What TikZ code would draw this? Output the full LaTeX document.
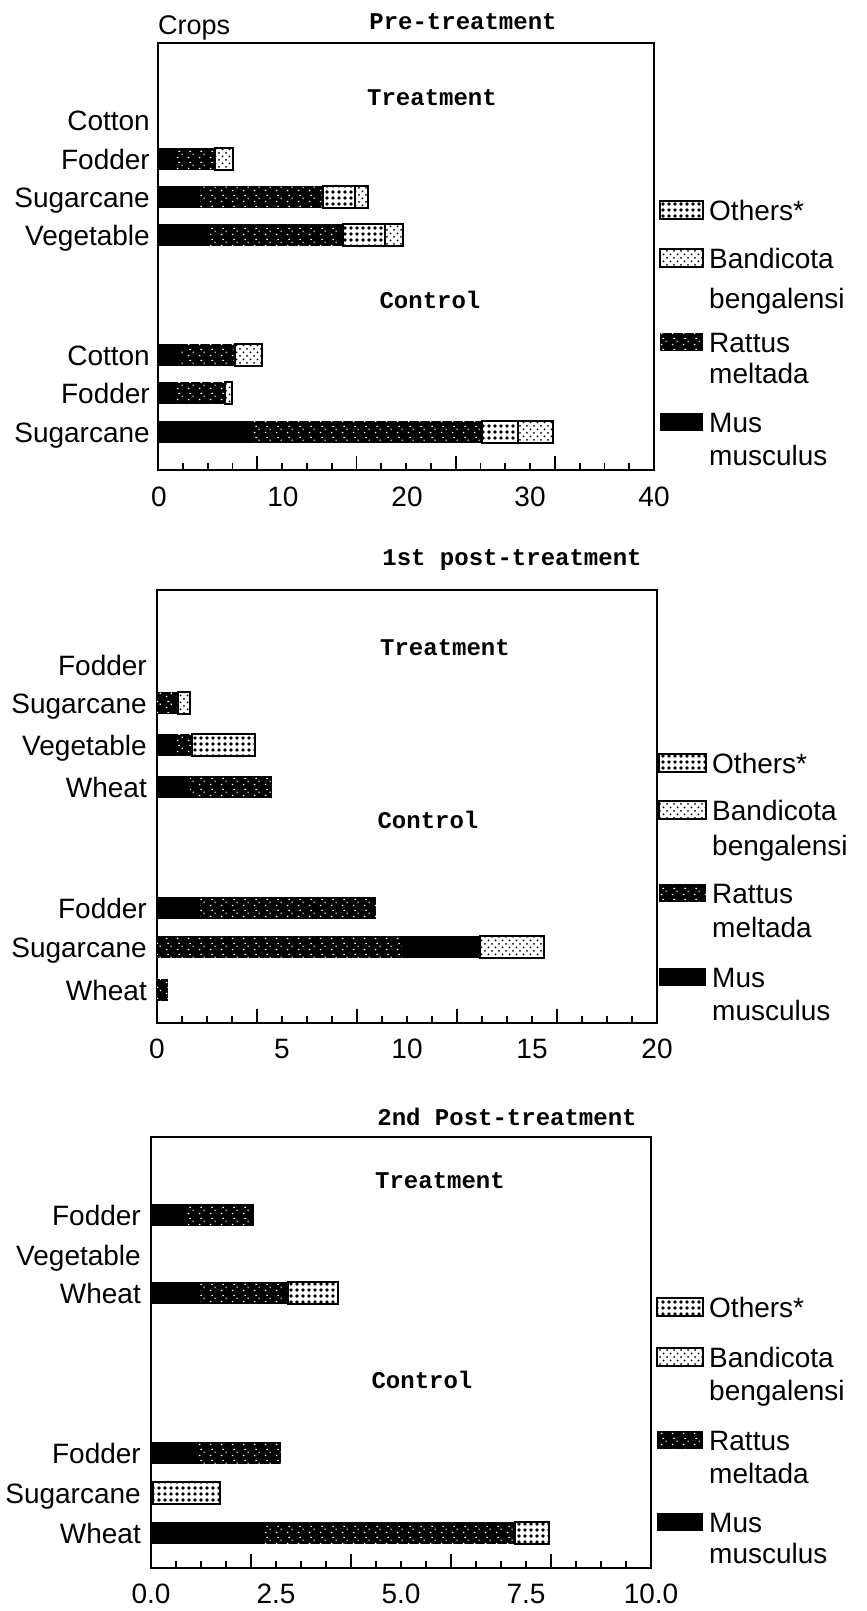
\documentclass[tikz,border=0pt]{standalone}
\usepackage{fontspec}
\setmainfont{Liberation Sans}
\newfontfamily\monof{Liberation Mono}
\usetikzlibrary{patterns}
\pgfdeclarepatternformonly{bigdots}{\pgfqpoint{-1pt}{-1pt}}{\pgfqpoint{7pt}{7pt}}{\pgfqpoint{6pt}{6pt}}{\pgfpathcircle{\pgfqpoint{3pt}{3pt}}{1.9pt}\pgfusepath{fill}}
\pgfdeclarepatternformonly{smalldots}{\pgfqpoint{-1pt}{-1pt}}{\pgfqpoint{8pt}{8pt}}{\pgfqpoint{7pt}{7pt}}{\pgfpathcircle{\pgfqpoint{2pt}{2pt}}{1pt}\pgfpathcircle{\pgfqpoint{5.5pt}{5.5pt}}{1pt}\pgfusepath{fill}}
\pgfdeclarepatternformonly{speck}{\pgfqpoint{0pt}{0pt}}{\pgfqpoint{11pt}{11pt}}{\pgfqpoint{11pt}{11pt}}{\pgfpathrectangle{\pgfqpoint{1pt}{1pt}}{\pgfqpoint{1.6pt}{1.2pt}}\pgfpathrectangle{\pgfqpoint{6pt}{4pt}}{\pgfqpoint{1.2pt}{1.8pt}}\pgfpathrectangle{\pgfqpoint{2.5pt}{7.5pt}}{\pgfqpoint{1.8pt}{1pt}}\pgfusepath{fill}}
\newcommand{\barseg}[4]{\path[#1] (#2,#4-11) rectangle (#3,#4+11);}
\newcommand{\legbox}[4]{\path[#1] (#2,#4-9) rectangle (#3,#4+9);}
\newcommand{\axisticks}[3]{%
  \foreach \i in {1,...,19}{%
    \pgfmathsetmacro{\xx}{#1+\i*(#2-#1)/20}%
    \pgfmathsetmacro{\tl}{mod(\i,4)==0 ? 14 : 7}%
    \draw[tickline] (\xx,#3) -- (\xx,#3-\tl);
  }}
\begin{document}
\begin{tikzpicture}[x=1pt,y=-1pt,
  frameline/.style={line width=2.6pt},
  tickline/.style={line width=1.8pt},
  croplab/.style={anchor=base east,inner sep=0pt,font=\fontsize{28}{28}\selectfont},
  leglab/.style={anchor=base west,inner sep=0pt,font=\fontsize{28}{28}\selectfont},
  ticklab/.style={anchor=base,inner sep=0pt,font=\fontsize{28}{28}\selectfont},
  ttl/.style={anchor=base,inner sep=0pt,font=\monof\bfseries\fontsize{24}{24}\selectfont},
  mus/.style={fill=black},
  rat/.style={preaction={fill=black},pattern=speck,pattern color=white},
  ban/.style={draw=black,line width=1.5pt,pattern=smalldots},
  oth/.style={draw=black,line width=1.5pt,pattern=bigdots}]
\useasboundingbox (0,0) rectangle (867,1611);

%%%%%%%% Chart 1: Pre-treatment
\node[anchor=base west,inner sep=0pt,font=\fontsize{27}{27}\selectfont] (crops) at (158,35) {Crops};
\node[ttl] (t1) at (463,30) {Pre-treatment};
\draw[frameline] (158,43) rectangle (654,470);
\axisticks{158}{654}{470}
\node[ttl] (t1trt) at (432,105) {Treatment};
\node[ttl] (t1ctl) at (430,308) {Control};
% treatment bars
\node[croplab] (a1) at (150,130) {Cotton};
\node[croplab] (a2) at (150,169) {Fodder};
\barseg{mus}{158}{172}{159}\barseg{rat}{172}{215}{159}\barseg{ban}{215}{233}{159}
\node[croplab] (a3) at (150,207) {Sugarcane};
\barseg{mus}{158}{200}{197}\barseg{rat}{200}{323}{197}\barseg{oth}{323}{355}{197}\barseg{ban}{355}{368}{197}
\node[croplab] (a4) at (150,245) {Vegetable};
\barseg{mus}{158}{210}{235}\barseg{rat}{210}{343}{235}\barseg{oth}{343}{385}{235}\barseg{ban}{385}{403}{235}
% control bars
\node[croplab] (a5) at (150,365) {Cotton};
\barseg{mus}{158}{180}{355}\barseg{rat}{180}{235}{355}\barseg{ban}{235}{262}{355}
\node[croplab] (a6) at (150,403) {Fodder};
\barseg{mus}{158}{175}{393}\barseg{rat}{175}{225}{393}\barseg{ban}{225}{232}{393}
\node[croplab] (a7) at (150,442) {Sugarcane};
\barseg{mus}{158}{250}{432}\barseg{rat}{250}{482}{432}\barseg{oth}{482}{518}{432}\barseg{ban}{518}{553}{432}
% axis labels
\node[ticklab] (x10) at (159,506) {0};
\node[ticklab] (x11) at (283,506) {10};
\node[ticklab] (x12) at (407,506) {20};
\node[ticklab] (x13) at (530,506) {30};
\node[ticklab] (x14) at (654,506) {40};
% legend
\legbox{oth}{660}{703}{210}\node[leglab] (l11) at (709,220) {Others*};
\legbox{ban}{660}{703}{258}\node[leglab] (l12) at (709,268) {Bandicota};
\node[leglab] (l12b) at (709,308) {bengalensi};
\legbox{rat}{660}{703}{342}\node[leglab] (l13) at (709,352) {Rattus};
\node[leglab] (l13b) at (709,383) {meltada};
\legbox{mus}{660}{703}{422}\node[leglab] (l14) at (709,432) {Mus};
\node[leglab] (l14b) at (709,465) {musculus};

%%%%%%%% Chart 2: 1st post-treatment
\node[ttl] (t2) at (512,565) {1st post-treatment};
\draw[frameline] (157,590) rectangle (657,1023);
\axisticks{157}{657}{1023}
\node[ttl] (t2trt) at (445,655) {Treatment};
\node[ttl] (t2ctl) at (428,828) {Control};
\node[croplab] (b1) at (147,675) {Fodder};
\node[croplab] (b2) at (147,713) {Sugarcane};
\barseg{rat}{157}{178}{703}\barseg{ban}{178}{190}{703}
\node[croplab] (b3) at (147,755) {Vegetable};
\barseg{mus}{157}{172}{745}\barseg{rat}{172}{192}{745}\barseg{oth}{192}{255}{745}
\node[croplab] (b4) at (147,797) {Wheat};
\barseg{mus}{157}{190}{787}\barseg{rat}{190}{272}{787}
\node[croplab] (b5) at (147,918) {Fodder};
\barseg{mus}{157}{200}{908}\barseg{rat}{200}{376}{908}
\node[croplab] (b6) at (147,957) {Sugarcane};
\barseg{rat}{157}{402}{947}\barseg{mus}{402}{480}{947}\barseg{ban}{480}{544}{947}
\node[croplab] (b7) at (147,1000) {Wheat};
\barseg{rat}{157}{168}{990}
\node[ticklab] (x20) at (157,1058) {0};
\node[ticklab] (x21) at (282,1058) {5};
\node[ticklab] (x22) at (407,1058) {10};
\node[ticklab] (x23) at (532,1058) {15};
\node[ticklab] (x24) at (657,1058) {20};
\legbox{oth}{659}{706}{763}\node[leglab] (l21) at (712,773) {Others*};
\legbox{ban}{659}{706}{810}\node[leglab] (l22) at (712,820) {Bandicota};
\node[leglab] (l22b) at (712,855) {bengalensi};
\legbox{rat}{659}{706}{893}\node[leglab] (l23) at (712,903) {Rattus};
\node[leglab] (l23b) at (712,937) {meltada};
\legbox{mus}{659}{706}{977}\node[leglab] (l24) at (712,987) {Mus};
\node[leglab] (l24b) at (712,1020) {musculus};

%%%%%%%% Chart 3: 2nd Post-treatment
\node[ttl] (t3) at (507,1125) {2nd Post-treatment};
\draw[frameline] (151,1137) rectangle (651,1568);
\axisticks{151}{651}{1568}
\node[ttl] (t3trt) at (440,1188) {Treatment};
\node[ttl] (t3ctl) at (422,1388) {Control};
\node[croplab] (c1) at (141,1225) {Fodder};
\barseg{mus}{151}{185}{1215}\barseg{rat}{185}{254}{1215}
\node[croplab] (c2) at (141,1265) {Vegetable};
\node[croplab] (c3) at (141,1303) {Wheat};
\barseg{mus}{151}{200}{1293}\barseg{rat}{200}{288}{1293}\barseg{oth}{288}{338}{1293}
\node[croplab] (c4) at (141,1463) {Fodder};
\barseg{mus}{151}{195}{1453}\barseg{rat}{195}{281}{1453}
\node[croplab] (c5) at (141,1503) {Sugarcane};
\barseg{oth}{153}{220}{1493}
\node[croplab] (c6) at (141,1543) {Wheat};
\barseg{mus}{151}{260}{1533}\barseg{rat}{260}{515}{1533}\barseg{oth}{515}{549}{1533}
\node[ticklab] (x30) at (151,1603) {0.0};
\node[ticklab] (x31) at (276,1603) {2.5};
\node[ticklab] (x32) at (401,1603) {5.0};
\node[ticklab] (x33) at (526,1603) {7.5};
\node[ticklab] (x34) at (651,1603) {10.0};
\legbox{oth}{657}{703}{1307}\node[leglab] (l31) at (709,1317) {Others*};
\legbox{ban}{657}{703}{1357}\node[leglab] (l32) at (709,1367) {Bandicota};
\node[leglab] (l32b) at (709,1400) {bengalensi};
\legbox{rat}{657}{703}{1440}\node[leglab] (l33) at (709,1450) {Rattus};
\node[leglab] (l33b) at (709,1483) {meltada};
\legbox{mus}{657}{703}{1522}\node[leglab] (l34) at (709,1532) {Mus};
\node[leglab] (l34b) at (709,1563) {musculus};
\end{tikzpicture}
\end{document}
